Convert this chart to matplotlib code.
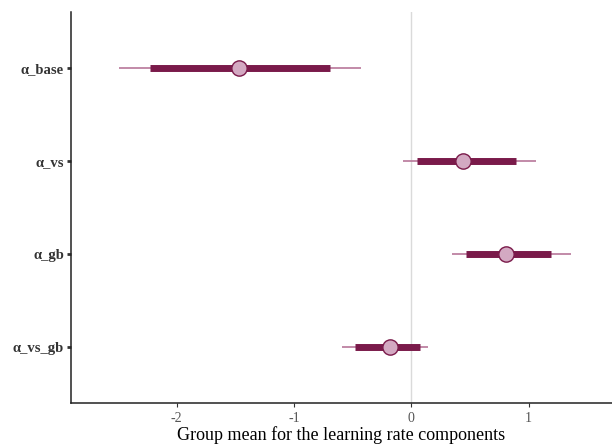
import numpy as np
import matplotlib
matplotlib.use('Agg')
import matplotlib.pyplot as plt
plt.rcParams.update({
    'font.family': 'Liberation Serif',
    'axes.spines.top': False,
    'axes.spines.right': False,
})

# Posterior summaries for the group-level learning rate components
params = ['α_base', 'α_vs', 'α_gb', 'α_vs_gb']
point = [-1.47, 0.44, 0.81, -0.18]
inner_lo = [-2.23, 0.05, 0.47, -0.48]
inner_hi = [-0.69, 0.89, 1.19, 0.07]
outer_lo = [-2.49, -0.07, 0.35, -0.59]
outer_hi = [-0.43, 1.06, 1.36, 0.14]

dark = '#7A1A4A'
light = '#B7779A'
fill = '#D3A9C2'

fig, ax = plt.subplots(figsize=(6.12, 4.44), dpi=100)
fig.subplots_adjust(left=0.116, right=1.0, top=0.973, bottom=0.092)

ypos = np.arange(1, len(params) + 1)

ax.axvline(0, color='#DADADA', lw=1.0, zorder=0)
ax.hlines(ypos, outer_lo, outer_hi, color=light, lw=1.2, zorder=1)
ax.hlines(ypos, inner_lo, inner_hi, color=dark, lw=5, zorder=2)
ax.plot(point, ypos, 'o', ms=11, mfc=fill, mec=dark, mew=1.0, zorder=3)

ax.set_xlim(-2.9, 1.71)
ax.set_ylim(4.6, 0.4)
ax.set_yticks(ypos)
ax.set_yticklabels(params, fontsize=10.5, fontweight='bold', color='#333333')
ax.set_xticks([-2, -1, 0, 1])
ax.set_xticklabels(['-2', '-1', '0', '1'], fontsize=10, color='#555555')
ax.tick_params(axis='y', length=3, width=2, color='#333333', pad=2)
ax.tick_params(axis='x', length=3, width=0.8, color='#333333')
for s in ['left', 'bottom']:
    ax.spines[s].set_linewidth(1.1)
    ax.spines[s].set_color('#222222')
ax.set_xlabel('Group mean for the learning rate components', fontsize=13, labelpad=1)

fig.savefig('out.png', dpi=100)
